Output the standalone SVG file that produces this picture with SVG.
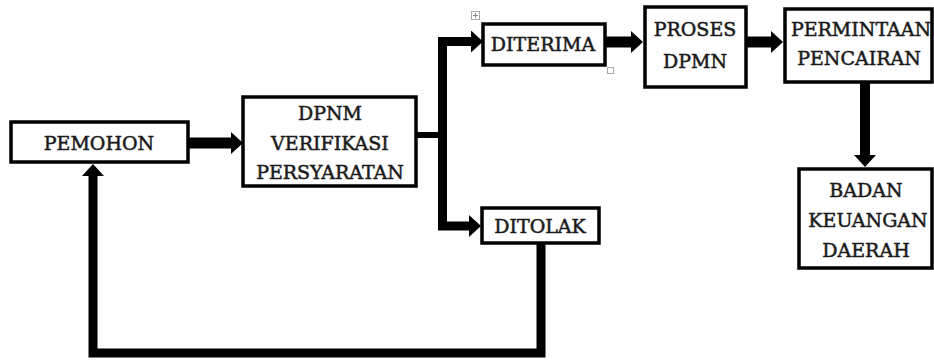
<svg xmlns="http://www.w3.org/2000/svg" width="934" height="360" viewBox="0 0 934 360">
<style>
.box{fill:#fff;stroke:#000;stroke-width:3.5}
.t{font-family:"DejaVu Serif","Liberation Serif",serif;font-size:19px;font-weight:normal;fill:#1a1a1a;stroke:#1a1a1a;stroke-width:0.5;text-anchor:middle}
.c{fill:none;stroke:#000;stroke-linejoin:miter;stroke-linecap:butt}
.ui{fill:#fff;stroke:#aaa;stroke-width:1}
</style>
<defs>
<marker id="ah" markerUnits="userSpaceOnUse" viewBox="0 0 12 22" markerWidth="12" markerHeight="22" refX="0" refY="11" orient="auto">
<path d="M0,0 L12,11 L0,22 z" fill="#000"/>
</marker>
</defs>
<rect width="934" height="360" fill="#fff"/>
<g id="connectors">
<path class="c" d="M188 143 H231" stroke-width="11" marker-end="url(#ah)"/>
<path class="c" d="M416 135 H443" stroke-width="6"/>
<path class="c" d="M442.5 135 V41.5 H471" stroke-width="9" marker-end="url(#ah)"/>
<path class="c" d="M442.5 135 V226 H469" stroke-width="9" marker-end="url(#ah)"/>
<path class="c" d="M605 42 H631" stroke-width="11" marker-end="url(#ah)"/>
<path class="c" d="M746 42 H771" stroke-width="11" marker-end="url(#ah)"/>
<path class="c" d="M865 82 V155" stroke-width="10" marker-end="url(#ah)"/>
<path class="c" d="M541 243 V353 H93 V176" stroke-width="9" marker-end="url(#ah)"/>
</g>
<g id="pemohon">
<rect class="box" x="11" y="122" width="177" height="40"/>
<text class="t" x="99" y="150">PEMOHON</text>
</g>
<g id="dpnm">
<rect class="box" x="243" y="97" width="173" height="89"/>
<text class="t" x="330" y="120">DPNM</text>
<text class="t" x="330" y="150">VERIFIKASI</text>
<text class="t" x="330" y="179">PERSYARATAN</text>
</g>
<g id="diterima">
<rect class="box" x="483" y="24" width="122" height="41"/>
<text class="t" x="543" y="51">DITERIMA</text>
</g>
<g id="proses">
<rect class="box" x="645" y="7" width="101" height="80"/>
<text class="t" x="695" y="36">PROSES</text>
<text class="t" x="695" y="68">DPMN</text>
</g>
<g id="permintaan">
<rect class="box" x="785" y="9" width="147" height="73"/>
<text class="t" x="861" y="36">PERMINTAAN</text>
<text class="t" x="859" y="65">PENCAIRAN</text>
</g>
<g id="badan">
<rect class="box" x="799" y="169" width="133" height="99"/>
<text class="t" x="866" y="197">BADAN</text>
<text class="t" x="868" y="227">KEUANGAN</text>
<text class="t" x="866" y="257">DAERAH</text>
</g>
<g id="ditolak">
<rect class="box" x="482" y="208" width="117" height="35"/>
<text class="t" x="540" y="233">DITOLAK</text>
</g>
<g id="ui-handles">
<rect class="ui" x="471.5" y="11.5" width="8" height="8"/>
<path d="M475.5 13 V18 M473 15.5 H478" stroke="#888" stroke-width="1"/>
<rect class="ui" x="607.5" y="67.5" width="6" height="6"/>
</g>
</svg>
